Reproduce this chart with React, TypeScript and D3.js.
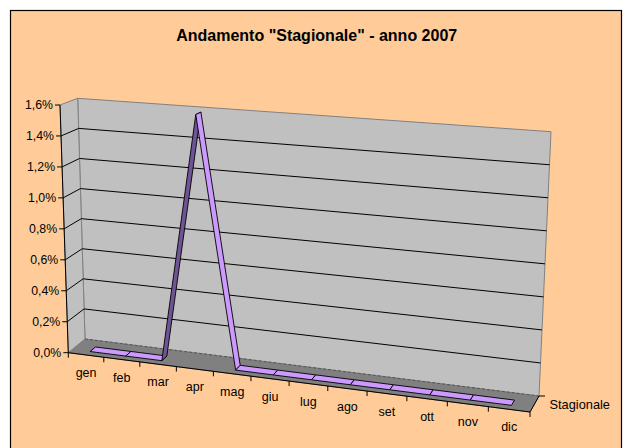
import React from "react";
import * as d3 from "d3";

const categories = ["gen", "feb", "mar", "apr", "mag", "giu", "lug", "ago", "set", "ott", "nov", "dic"];
const values = [0, 0, 0, 0.0159, 0, 0, 0, 0, 0, 0, 0, 0];
const yTicks = [0, 0.002, 0.004, 0.006, 0.008, 0.01, 0.012, 0.014, 0.016];
const seriesName = "Stagionale";
const title = 'Andamento "Stagionale" - anno 2007';

const W = 626;
const H = 448;
const FONT = "'Liberation Sans', Arial, sans-serif";

// projected corners of the 3D box: [u][v] at front (w=0) and back (w=1)
const F00: [number, number] = [68.3, 352.7];
const F10: [number, number] = [530, 412];
const F01: [number, number] = [60, 105];
const F11: [number, number] = [541.3, 141];
const B00: [number, number] = [85, 339];
const B10: [number, number] = [539, 396];
const B01: [number, number] = [77.7, 98.3];
const B11: [number, number] = [551, 131.7];
const PERSP = 0.091; // horizontal perspective foreshortening

const lerp = (a: [number, number], b: [number, number], t: number): [number, number] => [
  a[0] + (b[0] - a[0]) * t,
  a[1] + (b[1] - a[1]) * t,
];

function project(u0: number, v: number, w: number): [number, number] {
  const u = u0 / (1 + PERSP - PERSP * u0);
  const f0 = lerp(F00, F10, u);
  const f1 = lerp(F01, F11, u);
  const b0 = lerp(B00, B10, u);
  const b1 = lerp(B01, B11, u);
  const f = lerp(f0, f1, v);
  const b = lerp(b0, b1, v);
  return lerp(f, b, w);
}

const uScale = d3.scaleLinear().domain([0, categories.length]).range([0, 1]);
const vScale = d3.scaleLinear().domain([0, 0.016]).range([0, 1]);
const fmt = (d: number) => (d * 100).toFixed(1).replace(".", ",") + "%";

const W0 = 0.25;
const W1 = 0.58;

const poly = (pts: [number, number][]) => "M" + pts.map((p) => p.join(",")).join("L") + "Z";
const signedArea = (pts: [number, number][]) => {
  let s = 0;
  for (let i = 0; i < pts.length; i++) {
    const a = pts[i];
    const b = pts[(i + 1) % pts.length];
    s += a[0] * b[1] - b[0] * a[1];
  }
  return s / 2;
};

export default function App() {
  const floor = [project(0, 0, 0), project(1, 0, 0), project(1, 0, 1), project(0, 0, 1)];
  const backWall = [project(0, 0, 1), project(1, 0, 1), project(1, 1, 1), project(0, 1, 1)];
  const sideWall = [project(0, 0, 0), project(0, 0, 1), project(0, 1, 1), project(0, 1, 0)];

  const pts = values.map((val, i) => ({ u: uScale(i + 0.5), v: vScale(val) }));
  const refSign = Math.sign(
    signedArea([project(0, 0, W0), project(1, 0, W0), project(1, 0, W1), project(0, 0, W1)])
  );
  const segs = pts.slice(0, -1).map((p, i) => {
    const q = pts[i + 1];
    const quad = [project(p.u, p.v, W0), project(q.u, q.v, W0), project(q.u, q.v, W1), project(p.u, p.v, W1)];
    const s = Math.sign(signedArea(quad));
    return { quad, light: s === refSign || s === 0 };
  });

  const seriesMid = project(1, 0, 0.5);

  return (
    <svg
      width={W}
      height={H}
      style={{ position: "absolute", left: 0, top: 0, background: "#ffffff" }}
      fontFamily={FONT}
    >
      <rect x={10.5} y={10.5} width={611} height={450} fill="#FFCC99" stroke="#000" strokeWidth={1.2} />
      <text x={316.7} y={35} textAnchor="middle" dominantBaseline="central" fontWeight="bold" fontSize={16}>
        {title}
      </text>

      <path d={poly(floor)} fill="#808080" stroke="#666" strokeWidth={0.8} />
      <path d={poly(backWall)} fill="#C0C0C0" stroke="#808080" strokeWidth={1} />
      <path d={poly(sideWall)} fill="#C0C0C0" stroke="#808080" strokeWidth={1} />

      {yTicks.slice(1, -1).map((t) => {
        const v = vScale(t);
        const a = project(0, v, 0);
        const b = project(0, v, 1);
        const c = project(1, v, 1);
        return (
          <path key={"g" + t} d={`M${a.join(",")}L${b.join(",")}L${c.join(",")}`} fill="none" stroke="#000" strokeWidth={1} />
        );
      })}
      {(() => {
        const b = project(0, 0, 1);
        const c = project(1, 0, 1);
        return <path d={`M${b.join(",")}L${c.join(",")}`} stroke="#555" strokeWidth={1} strokeDasharray="3,2" />;
      })()}

      {segs.map((s, i) => (
        <path
          key={"s" + i}
          d={poly(s.quad)}
          fill={s.light ? "#CC99FF" : "#6E5496"}
          stroke="#000"
          strokeWidth={0.9}
          strokeLinejoin="round"
        />
      ))}

      {/* value axis */}
      {(() => {
        const a = project(0, 0, 0);
        const b = project(0, 1, 0);
        return <line x1={a[0]} y1={a[1]} x2={b[0]} y2={b[1]} stroke="#000" strokeWidth={1} />;
      })()}
      {yTicks.map((t) => {
        const p = project(0, vScale(t), 0);
        return (
          <g key={"y" + t}>
            <line x1={p[0] - 5} y1={p[1]} x2={p[0]} y2={p[1]} stroke="#000" strokeWidth={1} />
            <text x={p[0] - 7} y={p[1]} textAnchor="end" dominantBaseline="central" fontSize={12.3}>
              {fmt(t)}
            </text>
          </g>
        );
      })}

      {/* category axis */}
      {(() => {
        const a = project(0, 0, 0);
        const b = project(1, 0, 0);
        return <line x1={a[0]} y1={a[1]} x2={b[0]} y2={b[1]} stroke="#000" strokeWidth={1} />;
      })()}
      {d3.range(categories.length + 1).map((k) => {
        const p = project(uScale(k), 0, 0);
        return <line key={"ct" + k} x1={p[0]} y1={p[1]} x2={p[0]} y2={p[1] + 5} stroke="#000" strokeWidth={1} />;
      })}
      {categories.map((c, i) => {
        const a = project(uScale(i), 0, 0);
        const b = project(uScale(i + 1), 0, 0);
        const x = (a[0] + b[0]) / 2;
        const y = (a[1] + b[1]) / 2;
        return (
          <text key={"c" + c} x={x} y={y + 18} textAnchor="middle" dominantBaseline="central" fontSize={12.5}>
            {c}
          </text>
        );
      })}

      {/* series axis */}
      {(() => {
        const a = project(1, 0, 0);
        const b = project(1, 0, 1);
        return (
          <g>
            <line x1={a[0]} y1={a[1]} x2={b[0]} y2={b[1]} stroke="#000" strokeWidth={1} />
            <line x1={b[0]} y1={b[1]} x2={b[0] + 6} y2={b[1]} stroke="#000" strokeWidth={1} />
          </g>
        );
      })()}
      <text x={seriesMid[0] + 15} y={seriesMid[1]} dominantBaseline="central" fontSize={12.8}>
        {seriesName}
      </text>
    </svg>
  );
}
